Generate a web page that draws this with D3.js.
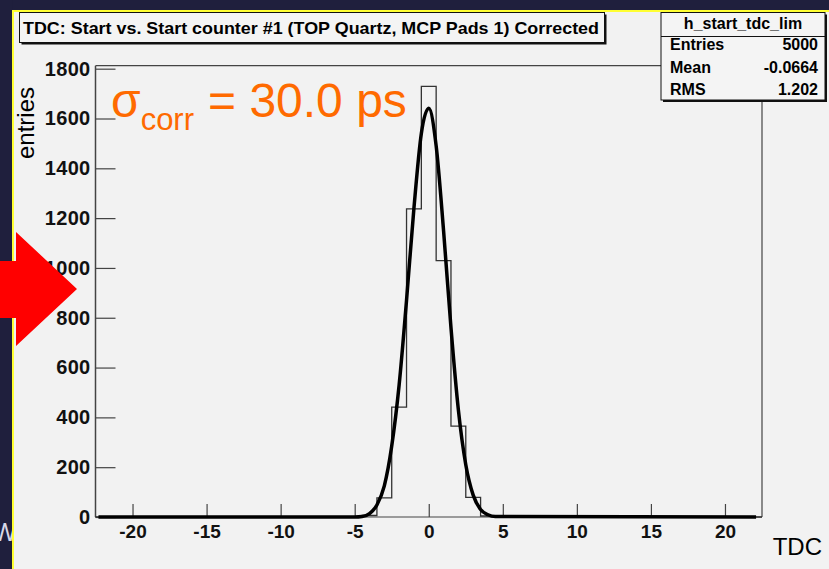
<!DOCTYPE html>
<html>
<head>
<meta charset="utf-8">
<script src="https://cdn.jsdelivr.net/npm/d3@7"></script>
<style>
  body { margin: 0; background: #f2f2f2; }
  svg { display: block; font-family: "Liberation Sans", Arial, sans-serif; }
</style>
</head>
<body>
<svg id="chart" width="829" height="569"></svg>
<script>
// histogram bins (bin centre, width 1)
var binCenters = [-4, -3, -2, -1, 0, 1, 2, 3, 4]
var binCounts = [6, 77, 441, 1237, 1729, 1029, 365, 79, 4]

// gaussian fit curve, sampled by eye
var fitX = [-22.3, -5, -4.5, -4, -3.5, -3, -2.5, -2, -1.5, -1, -0.5, 0, 0.5, 1, 1.5, 2, 2.5, 3, 3.5, 4, 4.5, 22.1]
var fitY = [0, 0, 2, 14, 48, 125, 285, 530, 870, 1240, 1540, 1641, 1490, 1150, 760, 430, 210, 88, 30, 9, 2, 0]

var xMajor = [-20, -15, -10, -5, 0, 5, 10, 15, 20]
var yMajor = [0, 200, 400, 600, 800, 1000, 1200, 1400, 1600, 1800]

var statNames = ["Entries", "Mean", "RMS"]
var statValues = ["5000", "-0.0664", "1.202"]

var navy = "#1f1f3d"
var yellow = "#ffff33"
var orange = "#ff6a00"
var axisCol = "#444"

var plain = function (d) { return String(d) }

var svg = d3.select("#chart")

// slide background bits
svg.append("rect").attr("x", 0).attr("y", 0).attr("width", 829).attr("height", 11).style("fill", navy)
svg.append("rect").attr("x", 0).attr("y", 0).attr("width", 12.5).attr("height", 569).style("fill", navy)
svg.append("rect").attr("x", 12.5).attr("y", 10).attr("width", 817).attr("height", 2).style("fill", yellow)
svg.append("rect").attr("x", 12).attr("y", 10).attr("width", 2).attr("height", 559).style("fill", yellow)

svg.append("clipPath").attr("id", "leftband")
  .append("rect").attr("x", 0).attr("y", 0).attr("width", 12).attr("height", 569)
svg.append("text")
  .attr("clip-path", "url(#leftband)")
  .attr("x", -7).attr("y", 541)
  .style("font-size", "25px").style("fill", "#d8d8e8")
  .text("W")

var x = d3.scaleLinear().domain([-22.5, 22.5]).range([95.5, 762])
var y = d3.scaleLinear().domain([0, 1812]).range([517, 65.7])

// frame
svg.append("line").attr("x1", 95.5).attr("x2", 661).attr("y1", 65.7).attr("y2", 65.7)
  .style("stroke", axisCol).style("stroke-width", 1.2)
svg.append("line").attr("x1", 762).attr("x2", 762).attr("y1", 100).attr("y2", 517)
  .style("stroke", axisCol).style("stroke-width", 1.2)

// axes
var gx = svg.append("g").attr("transform", "translate(0,517)")
gx.call(d3.axisBottom(x).tickValues(d3.range(-22, 23, 1)).tickSize(-6).tickFormat(""))
gx.call(d3.axisBottom(x).tickValues(xMajor).tickSize(-13).tickPadding(8).tickSizeOuter(0).tickFormat(plain))
gx.selectAll(".domain").remove()
gx.selectAll("line").style("stroke", axisCol).style("stroke-width", 1.2)
gx.selectAll("text").style("font-size", "19px").style("font-weight", "bold").style("fill", "#111")
svg.append("line").attr("x1", 95.5).attr("x2", 762).attr("y1", 517).attr("y2", 517)
  .style("stroke", axisCol).style("stroke-width", 1.2)

var gy = svg.append("g").attr("transform", "translate(95.5,0)")
gy.call(d3.axisLeft(y).tickValues(d3.range(0, 1801, 50)).tickSize(-10).tickFormat(""))
gy.call(d3.axisLeft(y).tickValues(yMajor).tickSize(-20).tickPadding(5).tickSizeOuter(0).tickFormat(plain))
gy.selectAll(".domain").remove()
gy.selectAll("line").style("stroke", axisCol).style("stroke-width", 1.2)
gy.selectAll("text").style("font-size", "20px").style("font-weight", "bold").style("fill", "#111")
  .style("letter-spacing", "0.3px")
svg.append("line").attr("x1", 95.5).attr("x2", 95.5).attr("y1", 65.7).attr("y2", 517)
  .style("stroke", axisCol).style("stroke-width", 1.5)

// histogram as a step outline over the whole range
var countAt = new Map(binCenters.map(function (c, i) { return [c, binCounts[i]] }))
var steps = []
d3.range(-22, 23, 1).forEach(function (c) {
  var v = countAt.get(c) || 0
  steps.push([c - 0.5, v], [c + 0.5, v])
})
svg.append("path")
  .datum(steps)
  .attr("d", d3.line().x(function (d) { return x(d[0]) }).y(function (d) { return y(d[1]) }))
  .style("fill", "none").style("stroke", "#333").style("stroke-width", 1.3)

// fit
svg.append("path")
  .datum(fitX.map(function (v, i) { return [v, fitY[i]] }))
  .attr("d", d3.line().curve(d3.curveMonotoneX).x(function (d) { return x(d[0]) }).y(function (d) { return y(d[1]) }))
  .style("fill", "none").style("stroke", "#000").style("stroke-width", 3.5)

// axis titles
svg.append("text")
  .attr("transform", "translate(34,87) rotate(-90)")
  .attr("text-anchor", "end")
  .style("font-size", "24px")
  .text("entries")
svg.append("text")
  .attr("x", 822).attr("y", 555)
  .attr("text-anchor", "end")
  .style("font-size", "24px")
  .text("TDC")

// sigma label
var sig = svg.append("text").attr("x", 111).attr("y", 117).style("fill", orange).style("font-size", "48px")
sig.append("tspan").text("σ")
sig.append("tspan").attr("dy", 13).style("font-size", "31px").text("corr")
sig.append("tspan").attr("dy", -13).attr("dx", 14).text("= 30.0 ps")

// title box
svg.append("rect").attr("x", 21.5).attr("y", 14.5).attr("width", 585).attr("height", 30).style("fill", "#111")
svg.append("rect").attr("x", 19.5).attr("y", 12.5).attr("width", 585).attr("height", 30)
  .style("fill", "#f4f4f4").style("stroke", "#111").style("stroke-width", 1)
svg.append("text")
  .attr("x", 23).attr("y", 33.5)
  .attr("textLength", 576).attr("lengthAdjust", "spacingAndGlyphs")
  .style("font-size", "16.5px").style("font-weight", "bold")
  .text("TDC: Start vs. Start counter #1 (TOP Quartz, MCP Pads 1) Corrected")

// stats box
svg.append("rect").attr("x", 663).attr("y", 14.5).attr("width", 164).attr("height", 87.5).style("fill", "#111")
svg.append("rect").attr("x", 661).attr("y", 12.5).attr("width", 164).attr("height", 87.5)
  .style("fill", "#f4f4f4").style("stroke", "#111").style("stroke-width", 1)
svg.append("line").attr("x1", 661).attr("x2", 825).attr("y1", 36.5).attr("y2", 36.5)
  .style("stroke", "#111").style("stroke-width", 1)
svg.append("text")
  .attr("x", 743).attr("y", 29).attr("text-anchor", "middle")
  .style("font-size", "16px").style("font-weight", "bold")
  .text("h_start_tdc_lim")

statNames.forEach(function (name, i) {
  svg.append("text")
    .attr("x", 670).attr("y", 50 + i * 22.5)
    .style("font-size", "16px").style("font-weight", "bold")
    .text(name)
  svg.append("text")
    .attr("x", 818).attr("y", 50 + i * 22.5).attr("text-anchor", "end")
    .style("font-size", "16px").style("font-weight", "bold")
    .text(statValues[i])
})

// red arrow on the left edge
svg.append("path")
  .attr("d", "M0,261 L16,261 L16,232 L77,289 L16,346 L16,318 L0,318 Z")
  .style("fill", "#ff0000")
</script>
</body>
</html>
